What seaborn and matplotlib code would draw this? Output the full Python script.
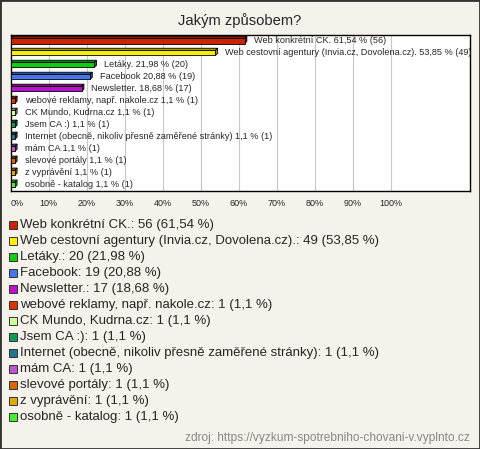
import numpy as np
import matplotlib
matplotlib.use("Agg")
import matplotlib.pyplot as plt
import matplotlib.colors as mcolors
from matplotlib.patches import Rectangle, Polygon
import seaborn as sns

# data
categories = [
    "Web konkrétní CK.",
    "Web cestovní agentury (Invia.cz, Dovolena.cz).",
    "Letáky.",
    "Facebook",
    "Newsletter.",
    "webové reklamy, např. nakole.cz",
    "CK Mundo, Kudrna.cz",
    "Jsem CA :)",
    "Internet (obecně, nikoliv přesně zaměřené stránky)",
    "mám CA",
    "slevové portály",
    "z vyprávění",
    "osobně - katalog",
]
counts = [56, 49, 20, 19, 17, 1, 1, 1, 1, 1, 1, 1, 1]
percents = [61.54, 53.85, 21.98, 20.88, 18.68, 1.1, 1.1, 1.1, 1.1, 1.1, 1.1, 1.1, 1.1]
colors = [
    "#CC2200", "#FFEE00", "#11CC11", "#4477EE", "#BB11CC",
    "#DD3300", "#CCFF99", "#119955", "#227790", "#BB55CC",
    "#DD6600", "#DDAA00", "#44EE33",
]
ticks = list(range(0, 101, 10))

TITLE = "Jakým způsobem?"
SOURCE = "zdroj: https://vyzkum-spotrebniho-chovani-v.vyplnto.cz"
BG = "#F4F2EA"

sns.set_style("white")
plt.rcParams["font.family"] = ["Liberation Sans", "DejaVu Sans"]

W, H = 480, 449
fig = plt.figure(figsize=(W / 100, H / 100), dpi=100, facecolor=BG)

def fx(px):
    return px / W

def fy(py):
    return 1 - py / H

ax = fig.add_axes([fx(10.7), fy(190.7), fx(470 - 10.7), (190.7 - 35) / H])
ax.set_facecolor("white")

fmt = lambda p: f"{p:g}".replace(".", ",")

sns.barplot(x=percents, y=categories, hue=categories, palette=colors,
            orient="h", width=0.42, legend=False, ax=ax,
            edgecolor="black", linewidth=0.6, saturation=1, zorder=3)

ax.set_xlim(0, 120.8)
ax.set_ylim(len(categories) - 0.5, -0.5)
ax.set_xticks(ticks)
ax.set_xticklabels([f"{t}%" for t in ticks], fontsize=6.5)
ax.get_xticklabels()[0].set_horizontalalignment("left")
ax.tick_params(axis="x", length=0, pad=6.3)
ax.tick_params(axis="y", left=False, labelleft=False)
ax.set_ylabel("")
ax.xaxis.grid(True, color="#C8C8C8", linewidth=0.8)
ax.set_axisbelow(True)
for s in ax.spines.values():
    s.set_color("black")
    s.set_linewidth(1)

# fake 3D depth on each bar
fig.canvas.draw()
d = 2.2
for bar in ax.patches:
    x0, y0 = bar.get_x(), bar.get_y()
    w, h = bar.get_width(), bar.get_height()
    (ax_, ay_), (bx_, by_) = ax.transData.transform([(x0, y0), (x0 + w, y0 + h)])
    left, right = min(ax_, bx_), max(ax_, bx_)
    bot, top = min(ay_, by_), max(ay_, by_)
    fc = bar.get_facecolor()
    dark = tuple(np.array(mcolors.to_rgb(fc)) * 0.65)
    topface = Polygon([(left, top), (left + d, top + d), (right + d, top + d), (right, top)],
                      closed=True, transform=None, facecolor=dark,
                      edgecolor="black", linewidth=0.6, zorder=2.9)
    side = Polygon([(right, top), (right + d, top + d), (right + d, bot + d), (right, bot)],
                   closed=True, transform=None, facecolor=dark,
                   edgecolor="black", linewidth=0.6, zorder=2.9)
    ax.add_artist(topface)
    ax.add_artist(side)

for i, (cat, p, c) in enumerate(zip(categories, percents, counts)):
    ax.annotate(f"{cat} {fmt(p)} % ({c})", xy=(p, i), xytext=(7, 0),
                textcoords="offset points", va="center", ha="left",
                fontsize=6.55, annotation_clip=False, clip_on=False, zorder=5)

fig.text(0.5, fy(21), TITLE, ha="center", va="center", fontsize=10.6)

# legend below the chart
for i, (cat, p, c, col) in enumerate(zip(categories, percents, counts, colors)):
    yc = 225 + 16 * i
    fig.add_artist(Rectangle((fx(9.3), fy(yc + 3.7)), fx(7.4), 7.4 / H,
                             transform=fig.transFigure, facecolor=col,
                             edgecolor="#333333", linewidth=0.7))
    fig.text(fx(20), fy(yc), f"{cat}: {c} ({fmt(p)} %)", ha="left",
             va="center", fontsize=9.5)

fig.text(fx(470), fy(438), SOURCE, ha="right", va="center",
         fontsize=8.6, color="#888888")

fig.add_artist(Rectangle((0, 0), 1, 1, transform=fig.transFigure, fill=False,
                         edgecolor="#333333", linewidth=2))

fig.savefig("out.png", dpi=100, facecolor=BG)
